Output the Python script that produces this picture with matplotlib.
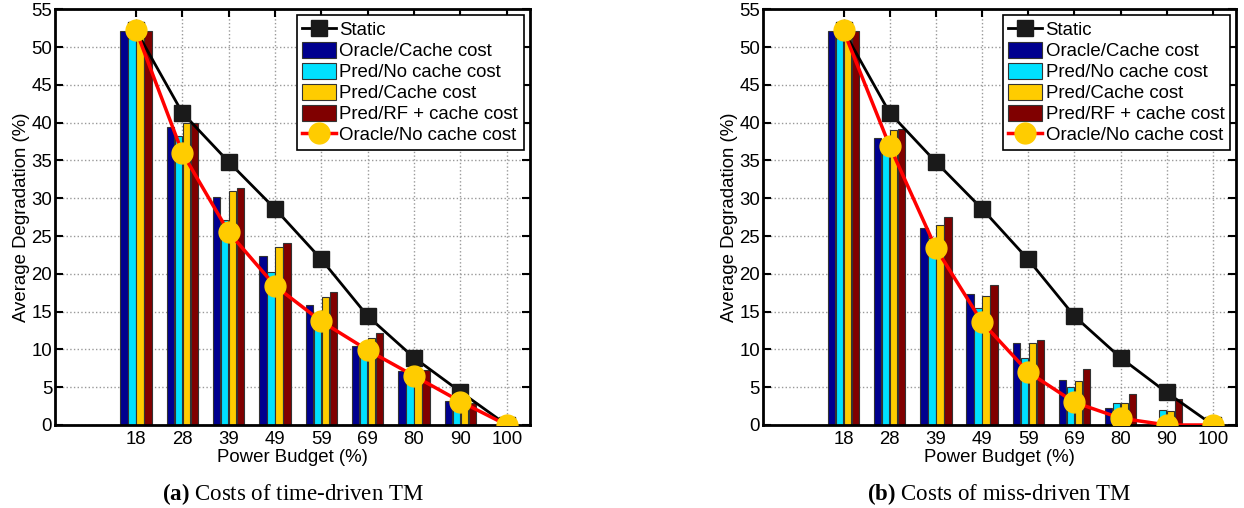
import numpy as np
import matplotlib
matplotlib.use("Agg")
import matplotlib.pyplot as plt

plt.rcParams['font.family'] = ['Liberation Sans', 'DejaVu Sans']
plt.rcParams['mathtext.fontset'] = 'custom'
plt.rcParams['mathtext.bf'] = 'Liberation Serif:bold'
plt.rcParams['mathtext.rm'] = 'Liberation Serif'

budgets = ['18', '28', '39', '49', '59', '69', '80', '90', '100']

# (a) time-driven TM
a_static = [52.2, 41.3, 34.8, 28.6, 21.9, 14.4, 8.9, 4.4, 0.0]
a_oracle_cache = [52.1, 39.4, 30.1, 22.3, 15.9, 10.4, 7.1, 3.2, 0.0]
a_pred_nocache = [52.1, 38.3, 27.1, 20.3, 14.8, 10.5, 7.4, 3.3, 0.0]
a_pred_cache = [52.1, 39.9, 30.9, 23.5, 17.0, 11.5, 7.4, 3.5, 0.0]
a_pred_rf = [52.1, 40.0, 31.4, 24.1, 17.6, 12.2, 7.3, 2.9, 0.0]
a_oracle_nocache = [52.2, 36.0, 25.5, 18.4, 13.7, 9.9, 6.5, 3.1, 0.0]

# (b) miss-driven TM
b_static = [52.2, 41.3, 34.8, 28.6, 21.9, 14.4, 8.9, 4.3, 0.0]
b_oracle_cache = [52.1, 38.0, 26.0, 17.3, 10.8, 5.9, 2.2, 0.0, 0.0]
b_pred_nocache = [52.1, 37.5, 24.8, 15.5, 8.9, 5.0, 2.9, 2.0, 0.0]
b_pred_cache = [52.1, 39.0, 26.5, 17.1, 10.8, 5.8, 2.9, 1.9, 0.0]
b_pred_rf = [52.1, 39.2, 27.5, 18.5, 11.2, 7.4, 4.1, 3.5, 0.0]
b_oracle_nocache = [52.2, 36.9, 23.4, 13.6, 7.0, 3.0, 0.9, 0.0, 0.0]

bar_labels = ['Oracle/Cache cost', 'Pred/No cache cost', 'Pred/Cache cost', 'Pred/RF + cache cost']
bar_colors = ['#00008f', '#00e1ff', '#ffcc00', '#800000']

FS = 13.4


def panel(ax, static, bars, oracle, caption):
    x = np.arange(len(budgets))
    w = 0.173
    hb = []
    for i, (vals, c, lab) in enumerate(zip(bars, bar_colors, bar_labels)):
        b = ax.bar(x + (i - 1.5) * w, vals, width=w * 0.92, color=c,
                   edgecolor='#333333', linewidth=0.8, label=lab, zorder=2)
        hb.append(b)
    hs, = ax.plot(x, static, '-s', color='black', lw=2, ms=11,
                  mfc='#1a1a1a', mec='#1a1a1a', label='Static', zorder=3)
    ho, = ax.plot(x, oracle, '-o', color='red', lw=2.5, ms=15,
                  mfc='#ffcc00', mec='#ffcc00', label='Oracle/No cache cost', zorder=4)

    ax.set_xlim(-1.75, 8.5)
    ax.set_ylim(0, 55)
    ax.set_xticks(x)
    ax.set_xticklabels(budgets)
    ax.set_yticks(np.arange(0, 56, 5))
    ax.tick_params(direction='in', length=6, width=1.5, top=True, right=True,
                   labelsize=FS, pad=4)
    ax.tick_params(axis='y', pad=2)
    ax.grid(True, linestyle=':', color='#999999', lw=1)
    ax.set_axisbelow(True)
    for s in ax.spines.values():
        s.set_linewidth(2)
    ax.set_xlabel('Power Budget (%)', fontsize=FS, labelpad=1)
    ax.set_ylabel('Average Degradation (%)', fontsize=FS, labelpad=1)

    leg = ax.legend([hs] + hb + [ho], ['Static'] + bar_labels + ['Oracle/No cache cost'],
                    loc='upper right', bbox_to_anchor=(0.987, 0.986), borderaxespad=0,
                    fontsize=FS, fancybox=False, framealpha=1, edgecolor='black',
                    handlelength=1.8, handleheight=0.95, handletextpad=0.2,
                    labelspacing=0.14, borderpad=0.3)
    leg.get_frame().set_linewidth(1.2)

    ax.text(0.5, -0.165, caption, transform=ax.transAxes, ha='center', va='center',
            fontsize=16.5, family='Liberation Serif')


fig = plt.figure(figsize=(12.44, 5.08), dpi=100)
ax1 = fig.add_axes([0.0442, 0.1634, 0.3818, 0.8183])
ax2 = fig.add_axes([0.6131, 0.1634, 0.3805, 0.8183])

panel(ax1, a_static, [a_oracle_cache, a_pred_nocache, a_pred_cache, a_pred_rf],
      a_oracle_nocache, r'$\mathbf{(a)}$ Costs of time-driven TM')
panel(ax2, b_static, [b_oracle_cache, b_pred_nocache, b_pred_cache, b_pred_rf],
      b_oracle_nocache, r'$\mathbf{(b)}$ Costs of miss-driven TM')

fig.savefig('out.png', dpi=100)
